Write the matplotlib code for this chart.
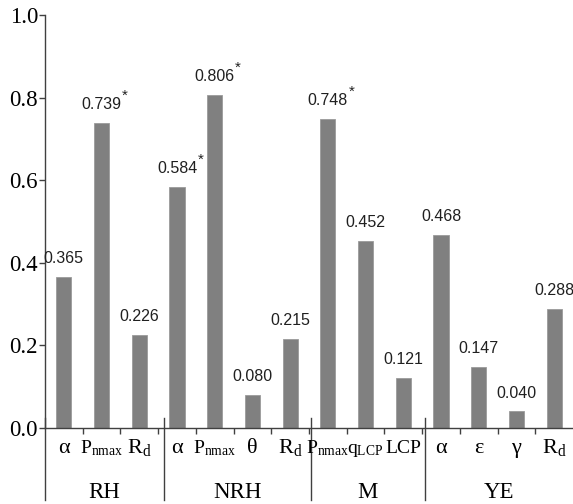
import matplotlib
matplotlib.use("Agg")
import matplotlib.pyplot as plt
import numpy as np

plt.rcParams['font.family'] = ['Liberation Serif', 'DejaVu Serif']
plt.rcParams['mathtext.fontset'] = 'custom'
plt.rcParams['mathtext.rm'] = 'Liberation Serif'
plt.rcParams['mathtext.it'] = 'Liberation Serif:italic'

# data
groups = ['RH', 'NRH', 'M', 'YE']
group_sizes = [3, 4, 3, 4]
params = ['α', r'$\mathrm{P_{nmax}}$', r'$\mathrm{R_d}$',
          'α', r'$\mathrm{P_{nmax}}$', 'θ', r'$\mathrm{R_d}$',
          r'$\mathrm{P_{nmax}}$', r'$\mathrm{q_{LCP}}$', 'LCP',
          'α', 'ε', 'γ', r'$\mathrm{R_d}$']
values = [0.365, 0.739, 0.226,
          0.584, 0.806, 0.080, 0.215,
          0.748, 0.452, 0.121,
          0.468, 0.147, 0.040, 0.288]
significant = [False, True, False,
               True, True, False, False,
               True, False, False,
               False, False, False, False]

fig = plt.figure(figsize=(5.73, 5.04), dpi=100)
ax = fig.add_axes([45 / 573, 76 / 504, 528 / 573, 413 / 504])

x = np.arange(len(values))
ax.bar(x, values, width=0.4, color='#808080', edgecolor='#9a9a9a', linewidth=0.6)

ax.set_xlim(-0.5, len(values) - 0.5)
ax.set_ylim(0, 1.0)
ax.set_yticks(np.arange(0, 1.01, 0.2))
ax.set_yticklabels(['%.1f' % v for v in np.arange(0, 1.01, 0.2)], fontsize=16.5)
ax.tick_params(axis='y', direction='out', length=4, width=1, color='#404040', pad=1)

ax.set_xticks(np.arange(0.5, len(values) - 0.5, 1.0))
ax.set_xticklabels([])
ax.tick_params(axis='x', direction='out', length=4.5, width=1, color='#404040')

for s in ['top', 'right']:
    ax.spines[s].set_visible(False)
for s in ['left', 'bottom']:
    ax.spines[s].set_color('#404040')
    ax.spines[s].set_linewidth(1.0)

# value labels
for xi, v, sig in zip(x, values, significant):
    t = ax.annotate('%.3f' % v, xy=(xi, v), xytext=(0, 10), textcoords='offset points',
                    ha='center', va='baseline', fontsize=11.5, family='Liberation Sans',
                    color='#202020')
    if sig:
        ax.annotate('*', xy=(1.0, 0.6), xycoords=t, xytext=(0.3, 0),
                    textcoords='offset points', ha='left', va='bottom',
                    fontsize=11, family='Liberation Sans', color='#202020')

# category labels
trans = ax.get_xaxis_transform()
for xi, lab in zip(x, params):
    size = 14 if (lab.startswith('$') and 'R_d' not in lab) or lab == 'LCP' else 16
    ax.text(xi, -0.0605, lab, transform=trans, ha='center', va='baseline', fontsize=size)

# group separators and labels
bounds = np.concatenate([[0], np.cumsum(group_sizes)]) - 0.5
offsets = [0.0, 0.15, 0.05, 0.07, 0.0]
line_x = [b + o for b, o in zip(bounds, offsets)]
for i in range(len(groups)):
    ax.plot([line_x[i], line_x[i]], [0.024, -0.174], transform=trans, color='#404040',
            linewidth=1.0, clip_on=False)
    right = line_x[i + 1] if i + 1 < len(groups) else bounds[-1]
    ax.text((line_x[i] + right) / 2, -0.1695, groups[i], transform=trans,
            ha='center', va='baseline', fontsize=16.5)

fig.savefig('out.png', dpi=100)
